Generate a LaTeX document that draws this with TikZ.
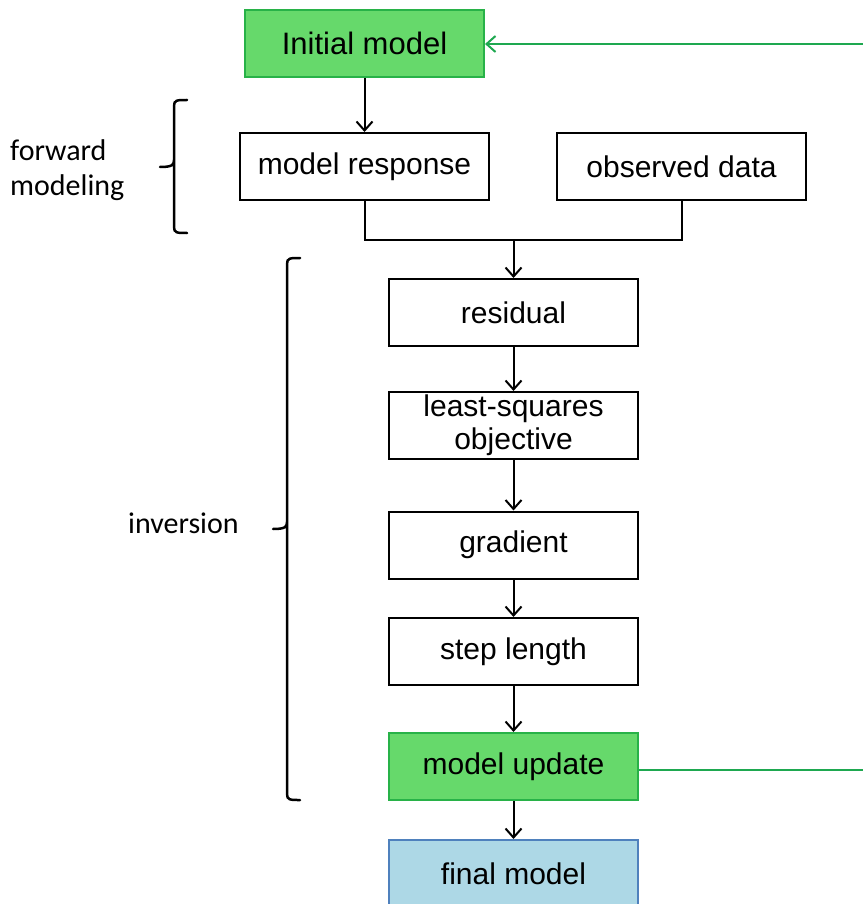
\documentclass[tikz,border=0pt]{standalone}
\usepackage{fontspec}
\setmainfont{Liberation Sans}
\newfontfamily\labelfont{Carlito}
\usetikzlibrary{arrows.meta}
\definecolor{boxgreen}{RGB}{102,217,107}
\definecolor{boxgreenline}{RGB}{40,178,72}
\definecolor{loopgreen}{RGB}{30,168,80}
\definecolor{boxblue}{RGB}{173,216,230}
\definecolor{boxblueline}{RGB}{79,129,189}
\tikzset{
  flowbox/.style={draw=black, line width=2pt, fill=white, minimum width=249pt, minimum height=67pt, inner sep=0pt, align=center, font=\fontsize{30}{33}\selectfont},
  greenbox/.style={flowbox, draw=boxgreenline, fill=boxgreen},
  bluebox/.style={flowbox, draw=boxblueline, fill=boxblue},
  flowarrow/.style={line width=2pt, -{Straight Barb[length=9pt,width=16pt,line width=2pt]}},
  flowline/.style={line width=2pt},
  loopline/.style={line width=2.2pt, draw=loopgreen},
  bracepath/.style={line width=2.5pt, line cap=round},
  sidelabel/.style={font=\labelfont\fontsize{30}{35}\selectfont, align=left, inner sep=0pt}
}
\begin{document}
\begin{tikzpicture}[x=1pt,y=-1pt]
\useasboundingbox (0,0) rectangle (862,904);
% nodes
\node[greenbox, minimum width=239pt, font=\fontsize{31}{34}\selectfont] (init) at (364.5,43.5) {Initial model};
\node[flowbox] (resp) at (364.5,166.5) {model response};
\node[flowbox] (obs) at (681.5,166.5) {observed data};
\node[flowbox] (resid) at (513.5,312.5) {residual};
\node[flowbox] (lsq) at (513.5,425.5) {least-squares\\objective};
\node[flowbox] (grad) at (513.5,545) {gradient};
\node[flowbox] (steplen) at (513.5,651.5) {step length};
\node[greenbox] (upd) at (513.5,766.5) {model update};
\node[bluebox] (final) at (513.5,873.5) {final model};
% labels
\node[sidelabel, anchor=west] (fwd) at (10,170) {forward\\modeling};
\node[sidelabel, anchor=west] (inv) at (128,523) {inversion};
% connectors
\coordinate (join) at (513.5,240);
\draw[flowarrow] (init.south) -- (resp.north);
\draw[flowline] (resp.south) |- (join) -| (obs.south);
\draw[flowarrow] (join) -- (resid.north);
\draw[flowarrow] (resid.south) -- (lsq.north);
\draw[flowarrow] (lsq.south) -- (grad.north);
\draw[flowarrow] (grad.south) -- (steplen.north);
\draw[flowarrow] (steplen.south) -- (upd.north);
\draw[flowarrow] (upd.south) -- (final.north);
% feedback loop (runs off the right edge)
\coordinate (loopbot) at (868,770);
\coordinate (looptop) at (868,44);
\coordinate (updout) at (upd.east |- loopbot);
\coordinate (initin) at (init.east |- looptop);
\draw[loopline] (updout) -- (loopbot) -- (looptop);
\draw[loopline, -{Straight Barb[length=9pt,width=16pt,line width=2pt]}] (looptop) -- (initin);
% braces
\draw[bracepath] (187,100) .. controls (177,100) and (174,100) .. (174,106)
  -- (174,160) .. controls (174,165) and (172,167) .. (160,167)
  (174,160) .. controls (174,169) and (174,168) .. (174,174)
  -- (174,227) .. controls (174,233) and (177,233) .. (187,233);
\draw[bracepath] (300,258) .. controls (290,258) and (287,258) .. (287,264)
  -- (287,522) .. controls (287,527) and (285,529) .. (273,529)
  (287,522) .. controls (287,531) and (287,530) .. (287,536)
  -- (287,794) .. controls (287,800) and (290,800) .. (300,800);
\end{tikzpicture}
\end{document}
